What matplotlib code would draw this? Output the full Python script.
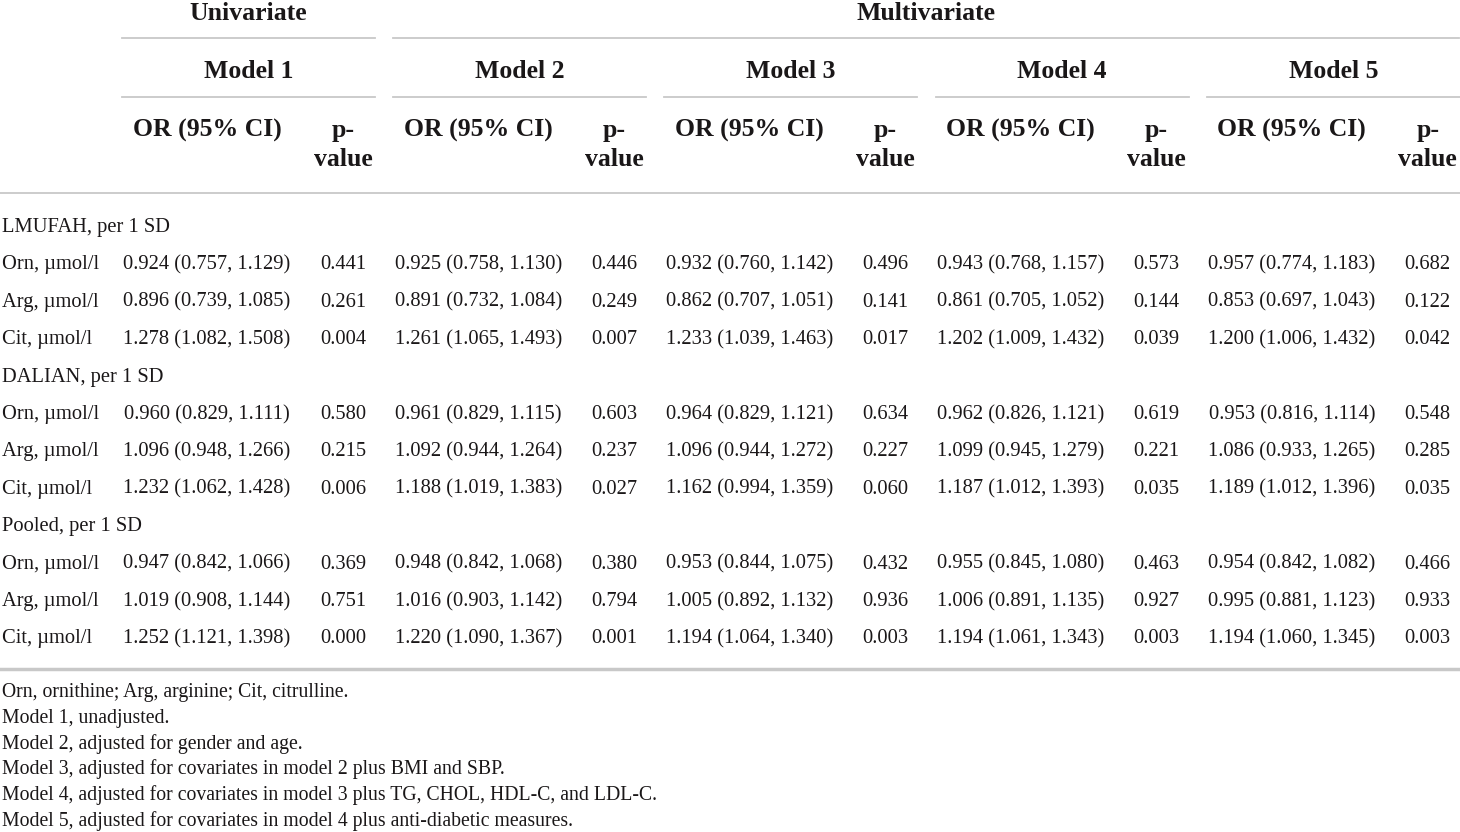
import matplotlib.pyplot as plt

# table content
groups = ["LMUFAH, per 1 SD", "DALIAN, per 1 SD", "Pooled, per 1 SD"]
metabolites = ["Orn, µmol/l", "Arg, µmol/l", "Cit, µmol/l"]
models = ["Model 1", "Model 2", "Model 3", "Model 4", "Model 5"]

or_m1 = ["0.924 (0.757, 1.129)", "0.896 (0.739, 1.085)", "1.278 (1.082, 1.508)",
         "0.960 (0.829, 1.111)", "1.096 (0.948, 1.266)", "1.232 (1.062, 1.428)",
         "0.947 (0.842, 1.066)", "1.019 (0.908, 1.144)", "1.252 (1.121, 1.398)"]
p_m1 = ["0.441", "0.261", "0.004", "0.580", "0.215", "0.006", "0.369", "0.751", "0.000"]

or_m2 = ["0.925 (0.758, 1.130)", "0.891 (0.732, 1.084)", "1.261 (1.065, 1.493)",
         "0.961 (0.829, 1.115)", "1.092 (0.944, 1.264)", "1.188 (1.019, 1.383)",
         "0.948 (0.842, 1.068)", "1.016 (0.903, 1.142)", "1.220 (1.090, 1.367)"]
p_m2 = ["0.446", "0.249", "0.007", "0.603", "0.237", "0.027", "0.380", "0.794", "0.001"]

or_m3 = ["0.932 (0.760, 1.142)", "0.862 (0.707, 1.051)", "1.233 (1.039, 1.463)",
         "0.964 (0.829, 1.121)", "1.096 (0.944, 1.272)", "1.162 (0.994, 1.359)",
         "0.953 (0.844, 1.075)", "1.005 (0.892, 1.132)", "1.194 (1.064, 1.340)"]
p_m3 = ["0.496", "0.141", "0.017", "0.634", "0.227", "0.060", "0.432", "0.936", "0.003"]

or_m4 = ["0.943 (0.768, 1.157)", "0.861 (0.705, 1.052)", "1.202 (1.009, 1.432)",
         "0.962 (0.826, 1.121)", "1.099 (0.945, 1.279)", "1.187 (1.012, 1.393)",
         "0.955 (0.845, 1.080)", "1.006 (0.891, 1.135)", "1.194 (1.061, 1.343)"]
p_m4 = ["0.573", "0.144", "0.039", "0.619", "0.221", "0.035", "0.463", "0.927", "0.003"]

or_m5 = ["0.957 (0.774, 1.183)", "0.853 (0.697, 1.043)", "1.200 (1.006, 1.432)",
         "0.953 (0.816, 1.114)", "1.086 (0.933, 1.265)", "1.189 (1.012, 1.396)",
         "0.954 (0.842, 1.082)", "0.995 (0.881, 1.123)", "1.194 (1.060, 1.345)"]
p_m5 = ["0.682", "0.122", "0.042", "0.548", "0.285", "0.035", "0.466", "0.933", "0.003"]

footnotes = [
    "Orn, ornithine; Arg, arginine; Cit, citrulline.",
    "Model 1, unadjusted.",
    "Model 2, adjusted for gender and age.",
    "Model 3, adjusted for covariates in model 2 plus BMI and SBP.",
    "Model 4, adjusted for covariates in model 3 plus TG, CHOL, HDL-C, and LDL-C.",
    "Model 5, adjusted for covariates in model 4 plus anti-diabetic measures.",
]

or_cols = [or_m1, or_m2, or_m3, or_m4, or_m5]
p_cols = [p_m1, p_m2, p_m3, p_m4, p_m5]

plt.rcParams["font.family"] = ["Liberation Serif", "DejaVu Serif"]
txt = "#1a1718"
rule = "#c8c8c8"

fig = plt.figure(figsize=(14.6, 8.32), dpi=100)
ax = fig.add_axes([0, 0, 1, 1])
ax.set_xlim(0, 1460)
ax.set_ylim(832, 0)
ax.axis("off")

hfs = 18.5
dfs = 14.8

# model blocks: left edge of each block and column centres
block_left = [122 + 271.2 * i for i in range(5)]
block_w = 253
or_x = [b + 85 for b in block_left]
p_x = [b + 221 for b in block_left]

# top spanner headings
ax.text((122 + 375) / 2, 20, "Univariate", ha="center", va="baseline",
        fontsize=hfs, fontweight="bold", color=txt)
ax.text((block_left[1] + 1459) / 2, 20, "Multivariate", ha="center", va="baseline",
        fontsize=hfs, fontweight="bold", color=txt)
ax.plot([122, 375], [38, 38], color=rule, lw=1.3)
ax.plot([block_left[1], 1459], [38, 38], color=rule, lw=1.3)

for i, m in enumerate(models):
    ax.text(block_left[i] + block_w / 2, 78, m, ha="center", va="baseline",
            fontsize=hfs, fontweight="bold", color=txt)
    ax.plot([block_left[i], block_left[i] + block_w], [97, 97], color=rule, lw=1.3)
    ax.text(or_x[i], 137, "OR (95% CI)", ha="center", va="baseline",
            fontsize=hfs, fontweight="bold", color=txt)
    ax.text(p_x[i], 137, "p-", ha="center", va="baseline",
            fontsize=hfs, fontweight="bold", color=txt)
    ax.text(p_x[i], 166, "value", ha="center", va="baseline",
            fontsize=hfs, fontweight="bold", color=txt)

ax.plot([0, 1460], [193, 193], color=rule, lw=1.3)

# body rows
row_h = 37.4
y = 232
k = 0
for g in groups:
    ax.text(2, y, g, ha="left", va="baseline", fontsize=dfs, color=txt)
    y += row_h
    for met in metabolites:
        ax.text(2, y, met, ha="left", va="baseline", fontsize=dfs, color=txt)
        for i in range(5):
            ax.text(or_x[i], y, or_cols[i][k], ha="center", va="baseline",
                    fontsize=dfs, color=txt)
            ax.text(p_x[i], y, p_cols[i][k], ha="center", va="baseline",
                    fontsize=dfs, color=txt)
        k += 1
        y += row_h

ax.plot([0, 1460], [669, 669], color=rule, lw=2.5)

for j, f in enumerate(footnotes):
    ax.text(2, 697 + 25.8 * j, f, ha="left", va="baseline", fontsize=14.2, color=txt)

plt.savefig("out.png", dpi=100)
